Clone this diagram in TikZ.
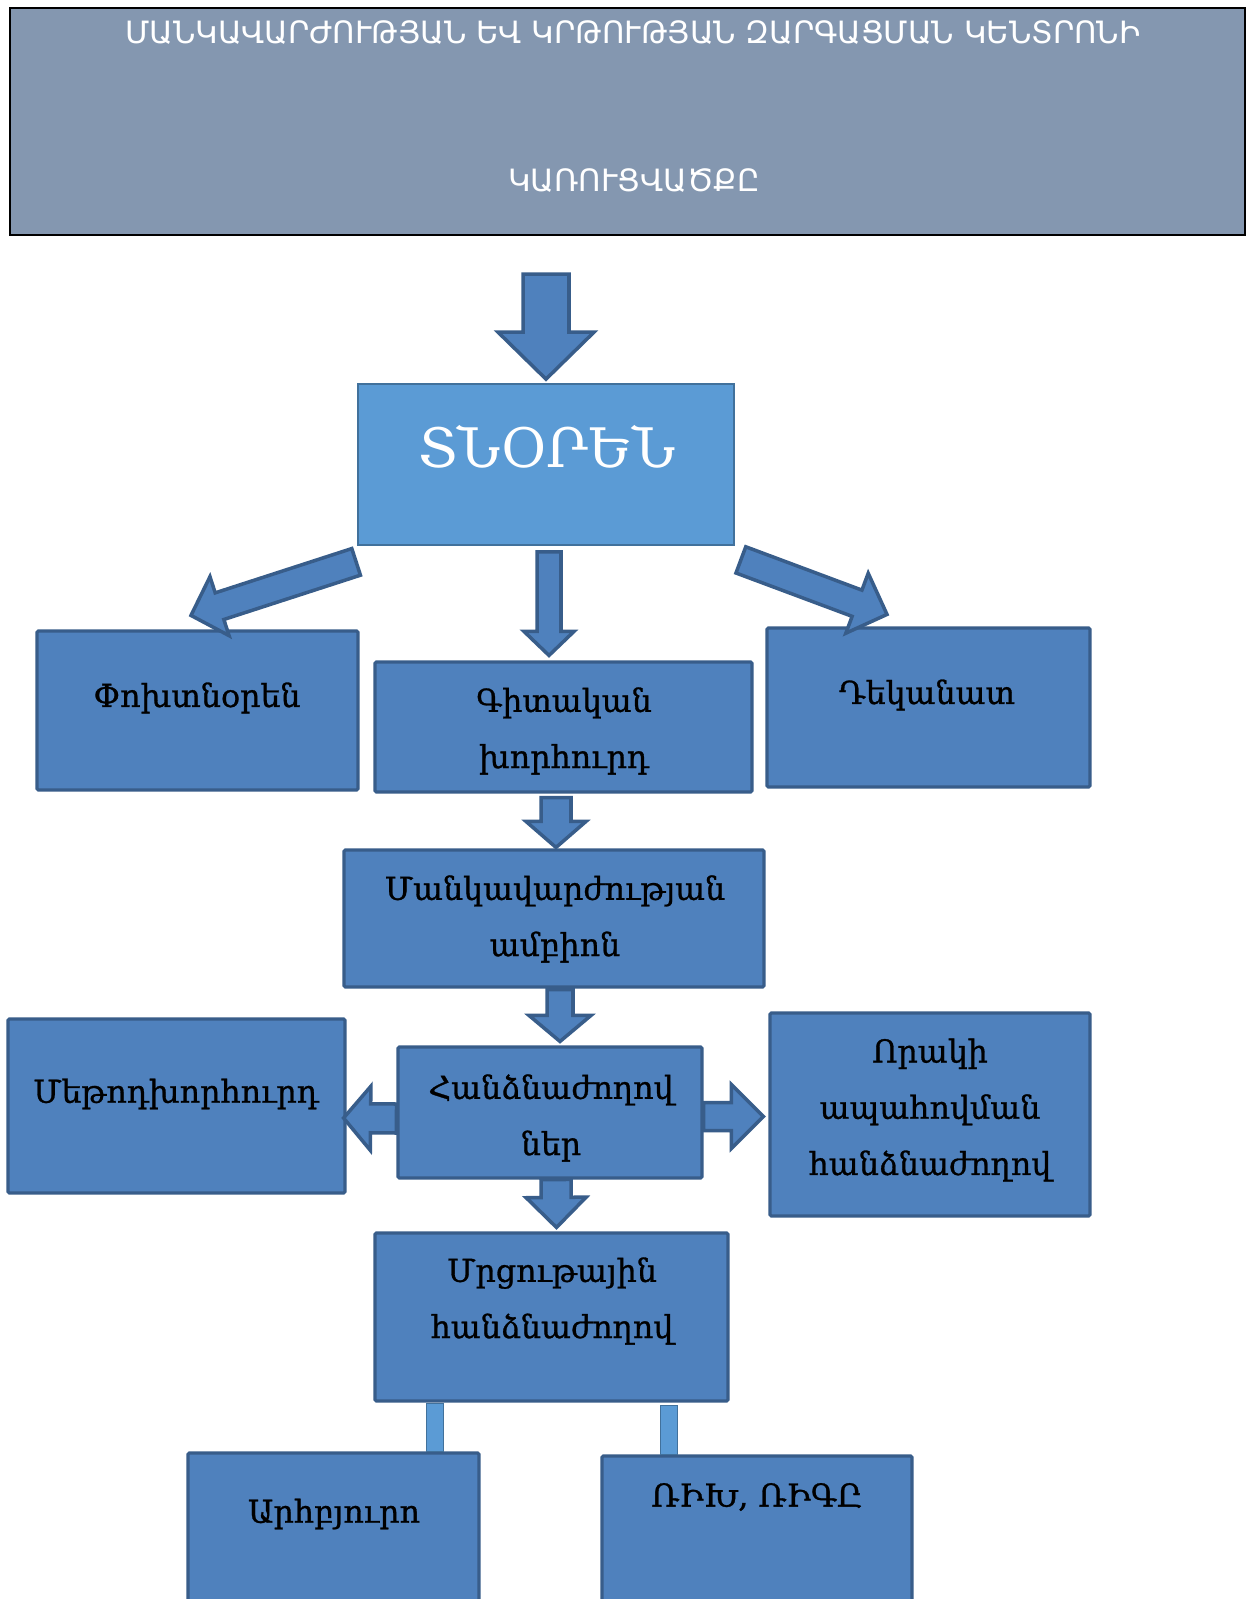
\documentclass[tikz,border=0pt]{standalone}
\usepackage{fontspec}
\setmainfont{DejaVu Serif}
\newfontfamily\lblfont[FakeBold=0.9]{DejaVu Serif}
\newfontfamily\hdrfont{DejaVu Sans}
\usetikzlibrary{calc,fit}
\definecolor{boxfill}{HTML}{4F81BD}
\definecolor{boxline}{HTML}{385D8A}
\definecolor{tnfill}{HTML}{5B9BD5}
\definecolor{tnline}{HTML}{41719C}
\definecolor{hdrfill}{HTML}{8497B0}
\tikzset{
  blk/.style={draw=boxline, fill=boxfill, line width=1.8pt, rounded corners=0.8pt, inner sep=0pt},
  tnbox/.style={draw=tnline, fill=tnfill, line width=1pt, inner sep=0pt},
  hdrbox/.style={draw=black, fill=hdrfill, line width=1.2pt, inner sep=0pt},
  lbl/.style={font=\lblfont\fontsize{18}{32}\selectfont, align=center, text=black, inner sep=0pt},
  hdrlbl/.style={font=\hdrfont\fontsize{17.5}{20}\selectfont, text=white, inner sep=0pt},
  barrowst/.style={draw=boxline, fill=boxfill, line width=2pt, line join=miter},
  conn/.style={draw=tnline, fill=tnfill, line width=0.8pt},
}
\newcommand\barrow[5]{%
  \coordinate (ba-t) at (#1);
  \coordinate (ba-h) at (#2);
  \coordinate (ba-b) at ($(ba-h)!#5!(ba-t)$);
  \draw[barrowst] ($(ba-t)!#3!90:(ba-h)$) -- ($(ba-b)!#3!-90:(ba-t)$) -- ($(ba-b)!#4!-90:(ba-t)$) -- (ba-h) -- ($(ba-b)!#4!90:(ba-t)$) -- ($(ba-b)!#3!90:(ba-t)$) -- ($(ba-t)!#3!-90:(ba-h)$) -- cycle;}
\begin{document}
\begin{tikzpicture}[x=0.02cm,y=-0.02cm]
\clip (0,0) rectangle (1247,1599);
\fill[white] (0,0) rectangle (1247,1599);
% header
\node[hdrbox, fit={(10,8) (1245,235)}] (hdr) {};
\node[hdrlbl] (hdr-t1) at (633,33) {ՄԱՆԿԱՎԱՐԺՈՒԹՅԱՆ ԵՎ ԿՐԹՈՒԹՅԱՆ ԶԱՐԳԱՑՄԱՆ ԿԵՆՏՐՈՆԻ};
\node[hdrlbl] (hdr-t2) at (634,181) {ԿԱՌՈՒՑՎԱԾՔԸ};
% boxes
\node[tnbox, fit={(358,384) (734,545)}] (tn) {};
\node[font=\fontsize{31}{38}\selectfont, text=white, inner sep=0pt] (tn-t) at (547,447) {ՏՆՕՐԵՆ};
\node[blk, fit={(37,631) (358,790)}] (ph) {};
\node[lbl] (ph-t) at (197,698) {Փոխտնօրեն};
\node[blk, fit={(375,662) (752,792)}] (g) {};
\node[lbl] (g-t) at (564,731) {Գիտական\\խորհուրդ};
\node[blk, fit={(767,628) (1090,787)}] (dek) {};
\node[lbl] (dek-t) at (927,695) {Դեկանատ};
\node[blk, fit={(344,850) (764,987)}] (m) {};
\node[lbl] (m-t) at (555,919) {Մանկավարժության\\ամբիոն};
\node[blk, fit={(398,1047) (702,1178)}] (h) {};
\node[lbl] (h-t) at (551,1118) {Հանձնաժողով\\ներ};
\node[blk, fit={(8,1019) (345,1193)}] (met) {};
\node[lbl] (met-t) at (176,1094) {Մեթոդխորհուրդ};
\node[blk, fit={(770,1013) (1090,1216)}] (or) {};
\node[lbl] (or-t) at (930,1110) {Որակի\\ապահովման\\հանձնաժողով};
\node[blk, fit={(375,1233) (728,1401)}] (mr) {};
\node[lbl] (mr-t) at (552,1301) {Մրցութային\\հանձնաժողով};
\node[blk, fit={(188,1453) (479,1630)}] (arb) {};
\node[lbl] (arb-t) at (334,1514) {Արհբյուրո};
\node[blk, fit={(602,1456) (912,1630)}] (rik) {};
\node[lbl] (rik-t) at (757,1497) {ՌԻԽ, ՌԻԳԸ};
% block arrows
\barrow{$(tn.north)+(0,-109)$}{$(tn.north)+(0,-4)$}{0.46cm}{0.96cm}{0.94cm}
\barrow{$(tn.south)+(3,6)$}{$(g.north)+(-14.5,-5)$}{0.24cm}{0.50cm}{0.48cm}
\barrow{$(tn.south west)+(-1,16)$}{$(ph.north)+(-6.5,-14)$}{0.28cm}{0.62cm}{0.60cm}
\barrow{$(tn.south east)+(6,14)$}{$(dek.north)+(-41.5,-12)$}{0.28cm}{0.64cm}{0.64cm}
\barrow{$(g.south)+(-7.5,4)$}{$(m.north)+(2,-1)$}{0.30cm}{0.60cm}{0.52cm}
\barrow{$(m.south)+(6,1)$}{$(h.north)+(10,-4)$}{0.26cm}{0.62cm}{0.52cm}
\barrow{$(h.south)+(6,0)$}{$(mr.north)+(5,-4)$}{0.30cm}{0.60cm}{0.60cm}
\barrow{$(h.west)+(0,6)$}{$(met.east)+(-3,12)$}{0.29cm}{0.64cm}{0.54cm}
\barrow{$(h.east)+(0,4)$}{$(or.west)+(-5,2)$}{0.28cm}{0.64cm}{0.64cm}
% connectors
\coordinate (c1a) at ($(mr.south west)+(53,1)$);
\coordinate (c1b) at ($(arb.north west)+(257,0)$);
\draw[conn] (c1a) rectangle (c1b);
\coordinate (c2a) at ($(mr.south west)+(287,3)$);
\coordinate (c2b) at ($(rik.north west)+(77,0)$);
\draw[conn] (c2a) rectangle (c2b);
\end{tikzpicture}
\end{document}
